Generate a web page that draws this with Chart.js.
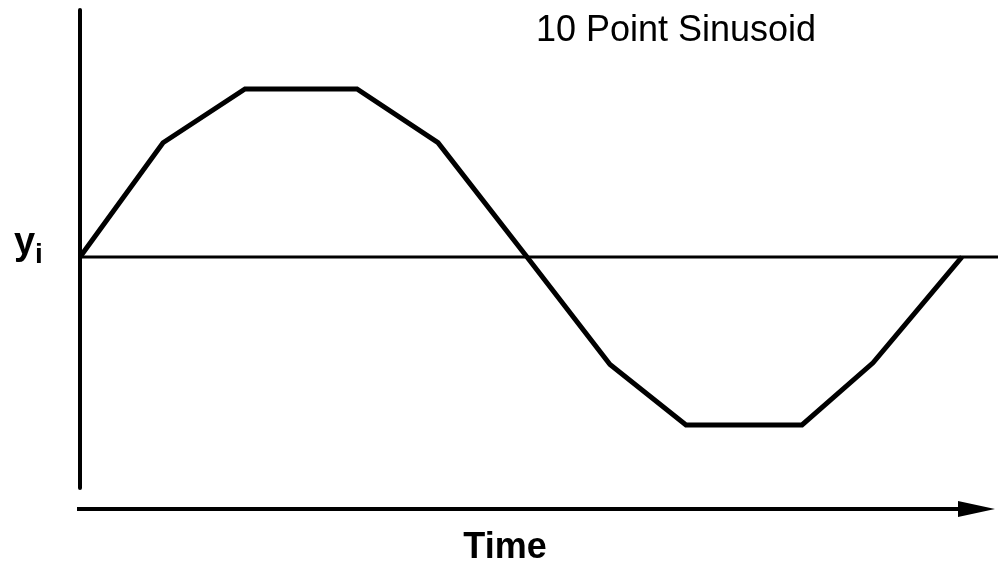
<!DOCTYPE html>
<html>
<head>
<meta charset="utf-8">
<script src="https://cdn.jsdelivr.net/npm/chart.js@4"></script>
<style>
  html, body { margin: 0; padding: 0; background: #fff; }
  #wrap { width: 998px; height: 568px; }
</style>
</head>
<body>
<div id="wrap"><canvas id="c"></canvas></div>
<script>
"use strict";

/* ── Data ───────────────────────────────────────────────── */
const timeValues = [0, 83, 165, 277, 358, 447, 530, 606, 722, 793, 882];
const yValues    = [0, 0.68, 1, 1, 0.68, 0, -0.64, -1, -1, -0.63, 0];
const titleText  = "10 Point Sinusoid";
const xLabel     = "Time";
const yLabel     = "y";
const ySub       = "i";

const points = timeValues.map((t, i) => ({ x: t, y: yValues[i] }));

/* ── Axes, arrow and labels ─────────────────────────────── */
const decor = {
  id: "decor",
  beforeDatasetsDraw(chart) {
    const { ctx, chartArea: a, scales } = chart;
    const y0 = scales.y.getPixelForValue(0);
    ctx.save();
    ctx.strokeStyle = "#000";
    ctx.lineCap = "round";
    // vertical axis
    ctx.lineWidth = 4;
    ctx.beginPath();
    ctx.moveTo(a.left, a.top);
    ctx.lineTo(a.left, a.bottom);
    ctx.stroke();
    // zero line
    ctx.lineWidth = 3;
    ctx.lineCap = "butt";
    ctx.beginPath();
    ctx.moveTo(a.left, y0);
    ctx.lineTo(chart.width, y0);
    ctx.stroke();
    ctx.restore();
  },
  afterDraw(chart) {
    const { ctx, chartArea: a, scales } = chart;
    const y0 = scales.y.getPixelForValue(0);
    ctx.save();
    ctx.fillStyle = "#000";
    ctx.strokeStyle = "#000";
    // time arrow
    const ay = a.bottom + 21;
    ctx.lineWidth = 4;
    ctx.beginPath();
    ctx.moveTo(a.left - 3, ay);
    ctx.lineTo(962, ay);
    ctx.stroke();
    ctx.beginPath();
    ctx.moveTo(995, ay);
    ctx.lineTo(958, ay - 8);
    ctx.lineTo(958, ay + 8);
    ctx.closePath();
    ctx.fill();
    // title
    ctx.font = "36px 'Liberation Sans', Arial, sans-serif";
    ctx.textAlign = "center";
    ctx.textBaseline = "alphabetic";
    ctx.fillText(titleText, 676, 41);
    // x label
    ctx.font = "bold 36px 'Liberation Sans', Arial, sans-serif";
    ctx.fillText(xLabel, 505, 558);
    // y label with subscript
    ctx.textAlign = "left";
    ctx.font = "bold 38px 'Liberation Sans', Arial, sans-serif";
    ctx.fillText(yLabel, 14, y0 - 3);
    ctx.font = "bold 28px 'Liberation Sans', Arial, sans-serif";
    ctx.fillText(ySub, 35, y0 + 6);
    ctx.restore();
  },
};

/* ── Chart ──────────────────────────────────────────────── */
new Chart(document.getElementById("c"), {
  type: "line",
  data: {
    datasets: [{
      data: points,
      borderColor: "#000",
      borderWidth: 5,
      pointRadius: 0,
      tension: 0,
      fill: false,
    }],
  },
  options: {
    responsive: true,
    maintainAspectRatio: false,
    animation: false,
    layout: { padding: { left: 80, right: 0, top: 10, bottom: 80 } },
    plugins: {
      legend: { display: false },
      tooltip: { enabled: false },
    },
    scales: {
      x: { type: "linear", min: 0, max: 918, display: false },
      y: { min: -1.375, max: 1.47, display: false },
    },
  },
  plugins: [decor],
});
</script>
</body>
</html>
